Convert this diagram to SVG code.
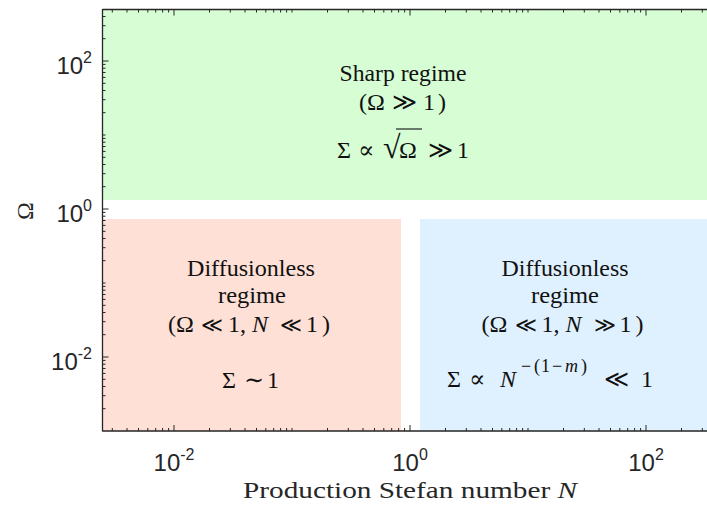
<svg xmlns="http://www.w3.org/2000/svg" width="707" height="506" viewBox="0 0 707 506">
<style>
.ax{stroke:#262626;stroke-width:1.3;fill:none}
.tk{stroke:#262626;stroke-width:1;fill:none}
.tl{font-family:"Liberation Sans",Arial,sans-serif;font-size:24px;fill:#262626}
.sup{font-size:16px}
.rt{font-family:"Liberation Serif","DejaVu Serif",serif;font-size:24px;fill:#111}
.rel{font-size:21px}
.lb{font-family:"Liberation Serif","DejaVu Serif",serif;font-size:24px;fill:#262626}
.it{font-style:italic}
</style>
<rect width="707" height="506" fill="#fff"/>
<g id="sharp">
<rect x="102" y="9" width="605" height="191" fill="#d6fdd4"/>
<text class="rt" x="403" y="81" text-anchor="middle" textLength="127" lengthAdjust="spacingAndGlyphs">Sharp regime</text>
<text class="rt" y="110"><tspan x="359">(</tspan><tspan x="367">Ω</tspan><tspan x="392">≫</tspan><tspan x="423">1</tspan><tspan x="438">)</tspan></text>
<text class="rt" y="158"><tspan x="337">Σ</tspan><tspan x="358">∝</tspan><tspan x="383" font-size="32">√</tspan><tspan x="399" y="158">Ω</tspan><tspan x="428">≫</tspan><tspan x="457">1</tspan></text>
<line x1="396" y1="129" x2="422" y2="129" stroke="#111" stroke-width="1.1"/>
</g>
<g id="diffusionless-low">
<rect x="102" y="219" width="299" height="212" fill="#fee0d6"/>
<text class="rt" x="251" y="276" text-anchor="middle" textLength="128" lengthAdjust="spacingAndGlyphs">Diffusionless</text>
<text class="rt" x="252" y="303" text-anchor="middle" textLength="68" lengthAdjust="spacingAndGlyphs">regime</text>
<text class="rt" y="332"><tspan x="168">(</tspan><tspan x="176">Ω</tspan><tspan x="201" class="rel">≪</tspan><tspan x="228">1</tspan><tspan x="240">,</tspan><tspan x="252" class="it">N</tspan><tspan x="280" class="rel">≪</tspan><tspan x="306">1</tspan><tspan x="322">)</tspan></text>
<text class="rt" y="388"><tspan x="222">Σ</tspan><tspan x="244">∼</tspan><tspan x="267">1</tspan></text>
</g>
<g id="diffusionless-high">
<rect x="420" y="219" width="287" height="212" fill="#dff0fe"/>
<text class="rt" x="565" y="276" text-anchor="middle" textLength="127" lengthAdjust="spacingAndGlyphs">Diffusionless</text>
<text class="rt" x="565" y="303" text-anchor="middle" textLength="68" lengthAdjust="spacingAndGlyphs">regime</text>
<text class="rt" y="332"><tspan x="481.5">(</tspan><tspan x="489.5">Ω</tspan><tspan x="514.5" class="rel">≪</tspan><tspan x="541.5">1</tspan><tspan x="553.5">,</tspan><tspan x="565.5" class="it">N</tspan><tspan x="593.5" class="rel">≫</tspan><tspan x="619.5">1</tspan><tspan x="635.5">)</tspan></text>
<text class="rt" y="387"><tspan x="447">Σ</tspan><tspan x="469">∝</tspan><tspan x="500" class="it">N</tspan><tspan font-size="18" y="372"><tspan x="521">−</tspan><tspan x="534">(</tspan><tspan x="541">1</tspan><tspan x="552">−</tspan><tspan x="565" class="it">m</tspan><tspan x="581">)</tspan></tspan><tspan x="604" y="387">≪</tspan><tspan x="641">1</tspan></text>
</g>
<g id="axes">
<path class="ax" d="M102.5 9.5H707M102.5 431H707M102.5 9V431.5"/>
<path class="tk" d="M112.3 431v-3M127 431v-3M138.5 431v-3M147.8 431v-3M155.7 431v-3M162.6 431v-3M168.6 431v-3M174 431v-6M209.5 431v-3M230.3 431v-3M245 431v-3M256.5 431v-3M265.8 431v-3M273.7 431v-3M280.6 431v-3M286.6 431v-3M292 431v-3M327.5 431v-3M348.3 431v-3M363 431v-3M374.5 431v-3M383.8 431v-3M391.7 431v-3M398.6 431v-3M404.6 431v-3M410 431v-6M445.5 431v-3M466.3 431v-3M481 431v-3M492.5 431v-3M501.8 431v-3M509.7 431v-3M516.6 431v-3M522.6 431v-3M528 431v-3M563.5 431v-3M584.3 431v-3M599 431v-3M610.5 431v-3M619.8 431v-3M627.7 431v-3M634.6 431v-3M640.6 431v-3M646 431v-6M681.5 431v-3M702.3 431v-3"/>
<path class="tk" d="M112.3 9.5v3M127 9.5v3M138.5 9.5v3M147.8 9.5v3M155.7 9.5v3M162.6 9.5v3M168.6 9.5v3M174 9.5v6M209.5 9.5v3M230.3 9.5v3M245 9.5v3M256.5 9.5v3M265.8 9.5v3M273.7 9.5v3M280.6 9.5v3M286.6 9.5v3M292 9.5v3M327.5 9.5v3M348.3 9.5v3M363 9.5v3M374.5 9.5v3M383.8 9.5v3M391.7 9.5v3M398.6 9.5v3M404.6 9.5v3M410 9.5v6M445.5 9.5v3M466.3 9.5v3M481 9.5v3M492.5 9.5v3M501.8 9.5v3M509.7 9.5v3M516.6 9.5v3M522.6 9.5v3M528 9.5v3M563.5 9.5v3M584.3 9.5v3M599 9.5v3M610.5 9.5v3M619.8 9.5v3M627.7 9.5v3M634.6 9.5v3M640.6 9.5v3M646 9.5v6M681.5 9.5v3M702.3 9.5v3"/>
<path class="tk" d="M102.5 408.7h3M102.5 395.7h3M102.5 386.5h3M102.5 379.3h3M102.5 373.4h3M102.5 368.5h3M102.5 364.2h3M102.5 360.4h3M102.5 357h6M102.5 334.7h3M102.5 321.7h3M102.5 312.5h3M102.5 305.3h3M102.5 299.4h3M102.5 294.5h3M102.5 290.2h3M102.5 286.4h3M102.5 283h3M102.5 260.7h3M102.5 247.7h3M102.5 238.5h3M102.5 231.3h3M102.5 225.4h3M102.5 220.5h3M102.5 216.2h3M102.5 212.4h3M102.5 209h6M102.5 186.7h3M102.5 173.7h3M102.5 164.5h3M102.5 157.3h3M102.5 151.4h3M102.5 146.5h3M102.5 142.2h3M102.5 138.4h3M102.5 135h3M102.5 112.7h3M102.5 99.7h3M102.5 90.5h3M102.5 83.3h3M102.5 77.4h3M102.5 72.5h3M102.5 68.2h3M102.5 64.4h3M102.5 61h6M102.5 38.7h3M102.5 25.7h3M102.5 16.5h3"/>
<text class="tl" x="92" y="73.5" text-anchor="end">10<tspan class="sup" dy="-11">2</tspan></text>
<text class="tl" x="92" y="221.5" text-anchor="end">10<tspan class="sup" dy="-11">0</tspan></text>
<text class="tl" x="92" y="369.5" text-anchor="end">10<tspan class="sup" dy="-11">-2</tspan></text>
<text class="tl" x="174" y="471" text-anchor="middle">10<tspan class="sup" dy="-11">-2</tspan></text>
<text class="tl" x="410" y="471" text-anchor="middle">10<tspan class="sup" dy="-11">0</tspan></text>
<text class="tl" x="646" y="471" text-anchor="middle">10<tspan class="sup" dy="-11">2</tspan></text>
<text class="lb" x="410" y="498" text-anchor="middle" textLength="334" lengthAdjust="spacingAndGlyphs">Production Stefan number <tspan class="it">N</tspan></text>
<text class="lb" font-size="25" transform="translate(33 211) rotate(-90)" text-anchor="middle">Ω</text>
</g>
</svg>
